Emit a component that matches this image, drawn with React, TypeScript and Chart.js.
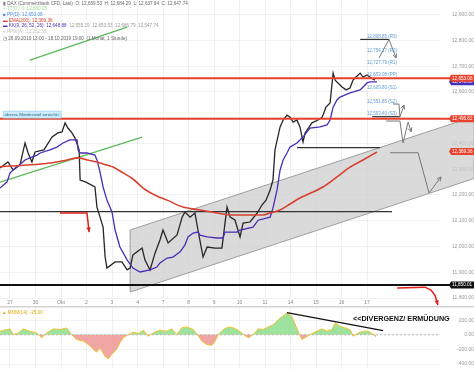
import React, { useEffect, useRef } from "react";
import { Chart, registerables } from "chart.js";
Chart.register(...registerables);
Chart.defaults.font.family = "'Liberation Sans', Arial, sans-serif";

// ---------- axes ----------
const dayLabels = ["27", "30", "Okt", "2", "3", "4", "7", "8", "9", "10", "11", "14", "15", "16", "17"];
const xMin = -0.392;
const xMax = 16.86;
const yMin = 11800;
const yMax = 12957;
const yTicks = [11800, 11900, 12000, 12100, 12200, 12300, 12400, 12500, 12600, 12700, 12800, 12900];
const momTicks = [200, 0, -200, -400];
const momMin = -468;
const momMax = 368;

// ---------- price (closes, day-index on x) ----------
const priceX = [-0.39, -0.08, 0.12, 0.39, 0.59, 0.71, 0.86, 0.98, 1.33, 1.65, 1.88, 2.04, 2.16, 2.27, 2.43, 2.55, 2.71, 2.75, 2.98, 3.33, 3.41, 3.53, 3.65, 3.73, 3.8, 4.12, 4.39, 4.59, 4.71, 4.82, 5.18, 5.29, 5.49, 5.69, 5.88, 6.0, 6.2, 6.55, 6.75, 6.86, 7.06, 7.25, 7.37, 7.57, 7.73, 8.04, 8.31, 8.43, 8.51, 8.63, 8.82, 9.02, 9.14, 9.41, 9.69, 9.88, 10.04, 10.2, 10.31, 10.39, 10.59, 10.71, 10.86, 10.98, 11.1, 11.25, 11.37, 11.49, 11.57, 11.84, 12.08, 12.24, 12.39, 12.55, 12.67, 12.75, 12.86, 13.02, 13.18, 13.33, 13.45, 13.57, 13.73, 13.84, 14.0, 14.16, 14.31];
const priceY = [12305, 12328, 12297, 12316, 12402, 12363, 12328, 12367, 12375, 12425, 12441, 12445, 12480, 12460, 12441, 12421, 12375, 12258, 12250, 12231, 12153, 12114, 12075, 11959, 11916, 11940, 11940, 11909, 11916, 11967, 11994, 11948, 11909, 11975, 12025, 12064, 12014, 12045, 12114, 12134, 12114, 12130, 12064, 11959, 11998, 11994, 11994, 12091, 12153, 12114, 12103, 12037, 12091, 12095, 12130, 12161, 12180, 12219, 12258, 12375, 12464, 12491, 12510, 12502, 12483, 12491, 12464, 12406, 12441, 12480, 12491, 12502, 12541, 12557, 12673, 12646, 12635, 12619, 12608, 12615, 12646, 12658, 12673, 12658, 12666, 12654, 12646];

// ---------- trailing line (purple) ----------
const purpleX = [-0.39, -0.12, 0.0, 0.2, 0.39, 0.59, 0.78, 1.06, 1.18, 1.57, 1.84, 2.08, 2.35, 2.63, 2.67, 2.75, 3.02, 3.33, 3.41, 3.53, 3.65, 3.8, 4.0, 4.12, 4.31, 4.59, 4.82, 5.1, 5.49, 5.76, 5.88, 6.16, 6.39, 6.67, 6.86, 6.98, 7.18, 7.37, 7.45, 7.73, 8.12, 8.35, 8.43, 8.9, 9.02, 9.53, 9.73, 10.2, 10.31, 10.47, 10.59, 10.71, 10.86, 10.98, 11.25, 11.49, 11.76, 12.16, 12.43, 12.55, 12.67, 12.82, 12.94, 13.33, 13.73, 14.0, 14.12, 14.39];
const purpleY = [12227, 12250, 12285, 12305, 12318, 12336, 12344, 12355, 12363, 12375, 12386, 12402, 12414, 12414, 12375, 12363, 12363, 12355, 12336, 12289, 12231, 12180, 12134, 12064, 11998, 11948, 11916, 11901, 11909, 11920, 11936, 11955, 11959, 11979, 12006, 12037, 12052, 12056, 12044, 12037, 12033, 12033, 12056, 12056, 12064, 12075, 12102, 12114, 12149, 12219, 12297, 12336, 12363, 12386, 12402, 12425, 12460, 12464, 12472, 12491, 12541, 12569, 12580, 12596, 12608, 12635, 12639, 12639];

// ---------- EMA(200) ----------
const emaX = [-0.39, 1.57, 2.24, 2.67, 3.02, 3.41, 3.8, 4.04, 4.31, 4.82, 5.22, 5.76, 6.16, 6.78, 7.45, 8.12, 8.75, 9.41, 9.92, 10.2, 10.59, 10.98, 11.37, 12.27, 12.82, 13.33, 13.84, 14.39];
const emaY = [12309, 12324, 12336, 12344, 12336, 12328, 12316, 12309, 12293, 12262, 12227, 12196, 12180, 12153, 12142, 12130, 12122, 12122, 12122, 12130, 12142, 12165, 12188, 12231, 12270, 12308, 12336, 12367];

// ---------- momentum MOM(14) ----------
const momX = [-0.39, 0, 0.13, 0.33, 0.52, 0.78, 1.05, 1.24, 1.44, 1.7, 1.96, 2.22, 2.42, 2.61, 2.88, 3.07, 3.27, 3.4, 3.53, 3.73, 3.86, 3.99, 4.18, 4.31, 4.44, 4.64, 4.84, 5.03, 5.23, 5.42, 5.62, 5.88, 6.14, 6.34, 6.54, 6.73, 6.93, 7.19, 7.39, 7.52, 7.71, 7.91, 8.04, 8.17, 8.37, 8.56, 8.76, 8.95, 9.15, 9.35, 9.54, 9.74, 9.93, 10.13, 10.33, 10.52, 10.72, 10.87, 11.05, 11.24, 11.44, 11.57, 11.76, 12.03, 12.22, 12.42, 12.62, 12.75, 12.94, 13.14, 13.33, 13.46, 13.66, 13.86, 14.05, 14.25, 14.35];
const momY = [50, 82, 5, 27, 82, 50, 27, -41, 27, 82, 73, 95, 5, -64, -86, -132, -200, -236, -177, -300, -327, -268, -200, -109, -41, 5, 36, 18, 64, -18, 27, 64, 50, 82, 5, 95, 109, 73, -18, -86, -132, -145, -86, 5, 73, 109, 95, 64, 5, -41, 5, 82, 73, 109, 141, 209, 264, 300, 255, 95, -64, -41, 5, 50, 82, 50, 73, 164, 118, 95, 73, -18, 27, 50, 50, 5, -25];

// ---------- drawn annotations (data units: [day, price]) ----------
const channelUpper = [[4.71, 12064], [18.2, 12505]];
const channelLower = [[4.71, 11823], [18.2, 12264]];
const greenLow = [[-0.39, 12250], [5.18, 12425]];
const greenHigh = [[0.78, 12724], [4.59, 12852]];
const redLevels = [12653, 12496];
const supportLevel = 11850;
const blackSegments = [[-0.39, 14.98, 12135], [11.25, 14.51, 12384], [13.73, 14.86, 12804], [14.2, 15.29, 12504]];
const grayArrows = [
  [[14.47, 12732], [14.86, 12804], [15.14, 12732]],
  [[15.02, 12553], [15.25, 12553], [15.29, 12503], [15.45, 12549]],
  [[14.75, 12487], [15.29, 12487], [15.41, 12402], [15.61, 12483], [15.73, 12445]],
  [[14.9, 12364], [16.0, 12364], [16.43, 12208], [16.9, 12270]],
];
const redArrows = [
  [[1.96, 12130], [3.02, 12130], [3.1, 12056]],
  [[15.18, 11839], [16.27, 11842], [16.51, 11831], [16.67, 11808], [16.78, 11773]],
];
const pivotLabels = [
  ["12,808.85 (R3)", 12813],
  ["12,754.17 (R2)", 12759],
  ["12,727.79 (R1)", 12712],
  ["12,653.08 (PP)", 12666],
  ["12,609.80 (S1)", 12615],
  ["12,551.85 (S2)", 12561],
  ["12,503.40 (S3)", 12514],
];
const pivotDay = 14.0;
const noteText = "oberes Mindestziel erreicht>";
const notePos = [-0.27, 12512];
const axisTags = [
  ["12,648.88", 12640, "#4a2db5", "#fff"],
  ["12,653.08", 12653, "#e8412c", "#fff"],
  ["12,496.82", 12496, "#e8412c", "#fff"],
  ["12,369.36", 12369, "#e8412c", "#fff"],
  ["11,850.01", 11850, "#111", "#fff"],
];
const legendRows: [number, [string, string][]][] = [
  [3.5, [["▮ ", "#777"], ["DAX (Commerzbank CFD, Last)  O: 12,659.53  H: 12,684.29  L: 12,637.94  C: 12,647.74", "#666"]]],
  [9, [["+ ", "#a8e0a0"], ["TT(D): 0: 12,630.05", "#a8e0a0"]]],
  [14.7, [["■ ", "#4a90e2"], ["PP(D): 12,653.08", "#4a90e2"]]],
  [20.3, [["▬ ", "#d9412f"], ["EMA(200): 12,369.36", "#d9412f"]]],
  [25.8, [["▬ ", "#4a2db5"], ["KK(9, 26, 52, 26): 12,648.88", "#4a2db5"], ["  12,555.19  12,653.53  12,686.79  12,547.74", "#999"]]],
  [31.3, [["+ ", "#c4c4c4"], ["PPW(A): 12,252.55", "#c4c4c4"]]],
  [38.7, [["◷ ", "#666"], ["26.09.2019 13:00 - 18.10.2019 19:00  (1 Monat, 1 Stunde)", "#666"]]],
];
const momTrend = [[10.86, 305], [14.63, 59]];
const momText = "<<DIVERGENZ/ ERMÜDUNG";
const momTextPos = [13.45, 223];
const momLabel = "▲ MOM(14): -25.00";

const FONT = "'Liberation Sans', Arial, sans-serif";
const fmt = (v: number) => v.toLocaleString("en-US", { minimumFractionDigits: 2, maximumFractionDigits: 2 });
const pts = (xs: number[], ys: number[]) => xs.map((x, i) => ({ x, y: ys[i] }));

function polyArrow(ctx: CanvasRenderingContext2D, p: number[][], color: string, width: number, filled: boolean) {
  ctx.strokeStyle = color;
  ctx.lineWidth = width;
  ctx.beginPath();
  p.forEach(([a, b], i) => (i ? ctx.lineTo(a, b) : ctx.moveTo(a, b)));
  ctx.stroke();
  const [x1, y1] = p[p.length - 2];
  const [x2, y2] = p[p.length - 1];
  const ang = Math.atan2(y2 - y1, x2 - x1);
  const L = filled ? 5 : 4.5;
  ctx.beginPath();
  ctx.moveTo(x2 - L * Math.cos(ang - 0.45), y2 - L * Math.sin(ang - 0.45));
  ctx.lineTo(x2, y2);
  ctx.lineTo(x2 - L * Math.cos(ang + 0.45), y2 - L * Math.sin(ang + 0.45));
  if (filled) {
    ctx.closePath();
    ctx.fillStyle = color;
    ctx.fill();
  } else ctx.stroke();
}

const mainOverlay = {
  id: "mainOverlay",
  beforeDatasetsDraw(chart: any) {
    const { ctx, scales, chartArea } = chart;
    const X = (d: number) => scales.x.getPixelForValue(d);
    const Y = (v: number) => scales.y.getPixelForValue(v);
    ctx.save();
    ctx.beginPath();
    ctx.moveTo(X(channelUpper[0][0]), Y(channelUpper[0][1]));
    ctx.lineTo(X(channelUpper[1][0]), Y(channelUpper[1][1]));
    ctx.lineTo(X(channelLower[1][0]), Y(channelLower[1][1]));
    ctx.lineTo(X(channelLower[0][0]), Y(channelLower[0][1]));
    ctx.closePath();
    ctx.fillStyle = "rgba(205,205,205,0.75)";
    ctx.fill();
    ctx.strokeStyle = "#8a8a8a";
    ctx.lineWidth = 0.8;
    ctx.stroke();
    ctx.strokeStyle = "#5cb85c";
    ctx.lineWidth = 1.3;
    for (const g of [greenLow, greenHigh]) {
      ctx.beginPath();
      ctx.moveTo(X(g[0][0]), Y(g[0][1]));
      ctx.lineTo(X(g[1][0]), Y(g[1][1]));
      ctx.stroke();
    }
    ctx.strokeStyle = "#333";
    ctx.lineWidth = 1.2;
    for (const [a, b, v] of blackSegments) {
      ctx.beginPath();
      ctx.moveTo(X(a), Y(v));
      ctx.lineTo(X(b), Y(v));
      ctx.stroke();
    }
    ctx.strokeStyle = "#111";
    ctx.lineWidth = 2;
    ctx.beginPath();
    ctx.moveTo(chartArea.left, Y(supportLevel));
    ctx.lineTo(chart.width, Y(supportLevel));
    ctx.stroke();
    ctx.restore();
  },
  afterDatasetsDraw(chart: any) {
    const { ctx, scales, chartArea } = chart;
    const X = (d: number) => scales.x.getPixelForValue(d);
    const Y = (v: number) => scales.y.getPixelForValue(v);
    ctx.save();
    ctx.strokeStyle = "#e8412c";
    ctx.lineWidth = 2;
    for (const v of redLevels) {
      ctx.beginPath();
      ctx.moveTo(chartArea.left, Y(v));
      ctx.lineTo(chart.width, Y(v));
      ctx.stroke();
    }
    for (const a of grayArrows) polyArrow(ctx, a.map(([d, v]) => [X(d), Y(v)]), "#777", 1, false);
    for (const a of redArrows) polyArrow(ctx, a.map(([d, v]) => [X(d), Y(v)]), "#e0201a", 1.5, true);
    ctx.font = `4.5px ${FONT}`;
    ctx.textBaseline = "middle";
    ctx.textAlign = "left";
    ctx.fillStyle = "#5b9bd5";
    for (const [t, v] of pivotLabels) ctx.fillText(t as string, X(pivotDay), Y(v as number));
    ctx.font = `4.4px ${FONT}`;
    const nx = X(notePos[0]);
    const ny = Y(notePos[1]);
    const nw = ctx.measureText(noteText).width + 3;
    ctx.fillStyle = "#cdeefb";
    ctx.fillRect(nx, ny - 3.5, nw, 7);
    ctx.strokeStyle = "#8ccbe8";
    ctx.lineWidth = 0.6;
    ctx.strokeRect(nx, ny - 3.5, nw, 7);
    ctx.fillStyle = "#2a5d8a";
    ctx.fillText(noteText, nx + 1.5, ny);
    ctx.restore();
  },
  afterDraw(chart: any) {
    const { ctx, scales, chartArea } = chart;
    const Y = (v: number) => scales.y.getPixelForValue(v);
    ctx.save();
    ctx.textBaseline = "middle";
    ctx.textAlign = "left";
    ctx.font = `4.6px ${FONT}`;
    for (const [t, v, bg, fg] of axisTags) {
      const y = Y(v as number);
      const x0 = chartArea.right + 11;
      ctx.fillStyle = bg as string;
      ctx.beginPath();
      ctx.moveTo(x0 - 2, y);
      ctx.lineTo(x0, y - 3.5);
      ctx.lineTo(chart.width, y - 3.5);
      ctx.lineTo(chart.width, y + 3.5);
      ctx.lineTo(x0, y + 3.5);
      ctx.closePath();
      ctx.fill();
      ctx.fillStyle = fg as string;
      ctx.fillText(t as string, x0 + 1, y);
    }
    ctx.font = `4.6px ${FONT}`;
    for (const [y, parts] of legendRows) {
      let x = 3;
      for (const [t, c] of parts) {
        ctx.fillStyle = c;
        ctx.fillText(t, x, y);
        x += ctx.measureText(t).width;
      }
    }
    ctx.restore();
  },
};

const momOverlay = {
  id: "momOverlay",
  beforeDatasetsDraw(chart: any) {
    const { ctx, scales, chartArea } = chart;
    ctx.save();
    ctx.strokeStyle = "#aaa";
    ctx.lineWidth = 0.8;
    ctx.setLineDash([2, 2]);
    ctx.beginPath();
    const y0 = scales.y.getPixelForValue(0);
    ctx.moveTo(chartArea.left, y0);
    ctx.lineTo(chartArea.right, y0);
    ctx.stroke();
    ctx.setLineDash([]);
    ctx.strokeStyle = "#d4d4d4";
    ctx.lineWidth = 2;
    ctx.beginPath();
    ctx.moveTo(0, 0.5);
    ctx.lineTo(chart.width, 0.5);
    ctx.stroke();
    ctx.restore();
  },
  afterDatasetsDraw(chart: any) {
    const { ctx, scales } = chart;
    const X = (d: number) => scales.x.getPixelForValue(d);
    const Y = (v: number) => scales.y.getPixelForValue(v);
    ctx.save();
    ctx.strokeStyle = "#111";
    ctx.lineWidth = 1.3;
    ctx.beginPath();
    ctx.moveTo(X(momTrend[0][0]), Y(momTrend[0][1]));
    ctx.lineTo(X(momTrend[1][0]), Y(momTrend[1][1]));
    ctx.stroke();
    ctx.fillStyle = "#111";
    ctx.font = `bold 7.2px ${FONT}`;
    ctx.textBaseline = "middle";
    ctx.textAlign = "left";
    ctx.fillText(momText, X(momTextPos[0]), Y(momTextPos[1]));
    ctx.font = `4.6px ${FONT}`;
    ctx.fillStyle = "#e0a800";
    ctx.fillText(momLabel, 2, 7);
    ctx.restore();
  },
};

export default function App() {
  const mainRef = useRef<HTMLCanvasElement>(null);
  const momRef = useRef<HTMLCanvasElement>(null);

  useEffect(() => {
    const grid = { color: "rgba(0,0,0,0.055)", drawTicks: false };
    const main = new Chart(mainRef.current!, {
      type: "line",
      data: {
        datasets: [
          { data: pts(emaX, emaY), borderColor: "#d9412f", borderWidth: 1.6, pointRadius: 0, cubicInterpolationMode: "monotone" },
          { data: pts(purpleX, purpleY), borderColor: "#4a2db5", borderWidth: 1.3, pointRadius: 0 },
          { data: pts(priceX, priceY), borderColor: "#262626", borderWidth: 1.3, pointRadius: 0 },
        ],
      },
      options: {
        animation: false,
        responsive: false,
        maintainAspectRatio: false,
        layout: { padding: 0 },
        plugins: { legend: { display: false }, tooltip: { enabled: false } },
        scales: {
          x: {
            type: "linear",
            min: xMin,
            max: xMax,
            afterBuildTicks: (s: any) => {
              s.ticks = dayLabels.map((_, i) => ({ value: i }));
            },
            afterFit: (s: any) => {
              s.height = 8;
              s.paddingLeft = 0;
              s.paddingRight = 0;
            },
            ticks: { callback: (v: any) => dayLabels[v] ?? "", font: { size: 5 }, color: "#888", padding: 2, maxRotation: 0, autoSkip: false },
            grid,
            border: { display: false },
          },
          y: {
            position: "right",
            min: yMin,
            max: yMax,
            afterBuildTicks: (s: any) => {
              s.ticks = yTicks.map((v) => ({ value: v }));
            },
            afterFit: (s: any) => {
              s.width = 34;
              s.paddingTop = 0;
              s.paddingBottom = 0;
            },
            ticks: { callback: (v: any) => fmt(v), font: { size: 5 }, color: "#999", padding: 0, crossAlign: "far" },
            grid,
            border: { display: false },
          },
        },
      },
      plugins: [mainOverlay],
    } as any);

    const mom = new Chart(momRef.current!, {
      type: "line",
      data: {
        datasets: [
          {
            data: pts(momX, momY),
            borderColor: "#f2c230",
            borderWidth: 1,
            pointRadius: 0,
            fill: { target: { value: 0 }, above: "rgba(140,222,140,0.85)", below: "rgba(238,150,150,0.85)" },
          },
        ],
      },
      options: {
        animation: false,
        responsive: false,
        maintainAspectRatio: false,
        layout: { padding: { top: 2 } },
        plugins: { legend: { display: false }, tooltip: { enabled: false } },
        scales: {
          x: {
            type: "linear",
            min: xMin,
            max: xMax,
            afterBuildTicks: (s: any) => {
              s.ticks = dayLabels.map((_, i) => ({ value: i }));
            },
            afterFit: (s: any) => {
              s.height = 0;
              s.paddingLeft = 0;
              s.paddingRight = 0;
            },
            ticks: { display: false },
            grid,
            border: { display: false },
          },
          y: {
            position: "right",
            min: momMin,
            max: momMax,
            afterBuildTicks: (s: any) => {
              s.ticks = momTicks.map((v) => ({ value: v }));
            },
            afterFit: (s: any) => {
              s.width = 34;
              s.paddingTop = 0;
              s.paddingBottom = 0;
            },
            ticks: { callback: (v: any) => fmt(v), font: { size: 5 }, color: "#999", padding: 0, crossAlign: "far" },
            grid,
            border: { display: false },
          },
        },
      },
      plugins: [momOverlay],
    } as any);

    return () => {
      main.destroy();
      mom.destroy();
    };
  }, []);

  return (
    <div style={{ position: "absolute", left: 0, top: 0, width: 474, height: 369, background: "#fff", overflow: "hidden" }}>
      <canvas ref={mainRef} width={474} height={306} style={{ position: "absolute", left: 0, top: 0, width: 474, height: 306 }} />
      <canvas ref={momRef} width={474} height={63} style={{ position: "absolute", left: 0, top: 306, width: 474, height: 63 }} />
    </div>
  );
}
